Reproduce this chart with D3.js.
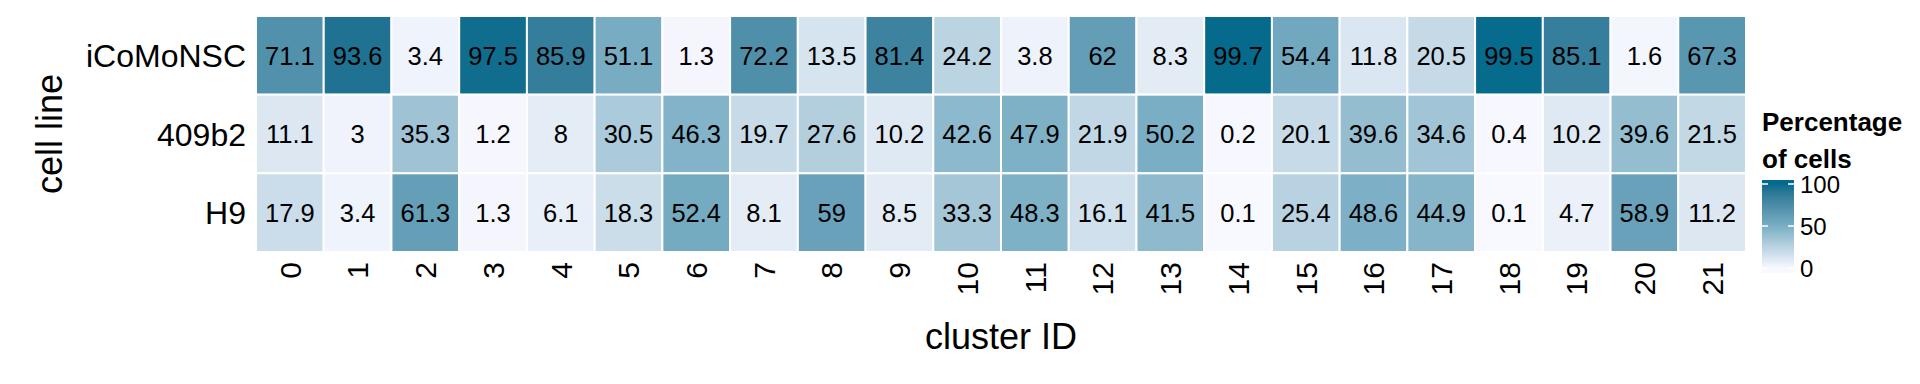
<!DOCTYPE html>
<html>
<head>
<meta charset="utf-8">
<script src="https://cdn.jsdelivr.net/npm/d3@7"></script>
<style>
  body { margin: 0; background: #fff; }
  text { font-family: "Liberation Sans", Arial, Helvetica, sans-serif; fill: #000; }
</style>
</head>
<body>
<div id="main"></div>
<script>
/*********************************************************
 * Data
 *********************************************************/
const clusters = d3.range(0, 22).map(String);
const cellLines = ['iCoMoNSC', '409b2', 'H9'];

const iCoMoNSC = [71.1, 93.6, 3.4, 97.5, 85.9, 51.1, 1.3, 72.2, 13.5, 81.4, 24.2,
  3.8, 62, 8.3, 99.7, 54.4, 11.8, 20.5, 99.5, 85.1, 1.6, 67.3];
const b409b2 = [11.1, 3, 35.3, 1.2, 8, 30.5, 46.3, 19.7, 27.6, 10.2, 42.6,
  47.9, 21.9, 50.2, 0.2, 20.1, 39.6, 34.6, 0.4, 10.2, 39.6, 21.5];
const H9 = [17.9, 3.4, 61.3, 1.3, 6.1, 18.3, 52.4, 8.1, 59, 8.5, 33.3,
  48.3, 16.1, 41.5, 0.1, 25.4, 48.6, 44.9, 0.1, 4.7, 58.9, 11.2];

const legendTicks = [0, 50, 100];

/*********************************************************
 * Layout
 *********************************************************/
const svgWidth = 1920;
const svgHeight = 384;
const panel = { l: 256, r: 1746, t: 16, b: 252 };

const svg = d3.select('#main')
  .append('svg')
  .attr('width', svgWidth)
  .attr('height', svgHeight);

const x = d3.scaleBand().domain(clusters).range([panel.l, panel.r]);
const y = d3.scaleBand().domain(cellLines).range([panel.t, panel.b]);

const color = d3.scaleLinear()
  .domain([0, 50, 100])
  .range(['#f8f8ff', '#79aec4', '#036a8b'])
  .interpolate(d3.interpolateLab);

// flatten into tiles
const rows = { 'iCoMoNSC': iCoMoNSC, '409b2': b409b2, 'H9': H9 };
const tiles = [];
cellLines.forEach(line => {
  rows[line].forEach((v, i) => {
    tiles.push({ line: line, cluster: clusters[i], value: v });
  });
});

/*********************************************************
 * Tiles + labels
 *********************************************************/
const plot = svg.append('g').attr('class', 'plot');

plot.selectAll('.tile')
  .data(tiles)
  .enter()
  .append('rect')
  .attr('class', 'tile')
  .attr('x', d => x(d.cluster))
  .attr('y', d => y(d.line))
  .attr('width', x.bandwidth())
  .attr('height', y.bandwidth())
  .style('fill', d => color(d.value))
  .style('stroke', '#fff')
  .style('stroke-width', 2);

plot.selectAll('.val')
  .data(tiles)
  .enter()
  .append('text')
  .attr('class', 'val')
  .attr('x', d => x(d.cluster) + x.bandwidth() / 2)
  .attr('y', d => y(d.line) + y.bandwidth() / 2)
  .attr('dy', '0.36em')
  .attr('text-anchor', 'middle')
  .style('font-size', '25.5px')
  .text(d => d.value);

/*********************************************************
 * Axes
 *********************************************************/
const yAxis = svg.append('g')
  .attr('transform', `translate(${panel.l},0)`)
  .call(d3.axisLeft(y).tickSize(0).tickPadding(10));
yAxis.select('.domain').remove();
yAxis.selectAll('text')
  .style('font-size', '32px')
  .style('font-family', '"Liberation Sans", Arial, sans-serif')
  .attr('fill', '#000')
  .attr('dy', '0.36em');

const xAxis = svg.append('g')
  .attr('transform', `translate(0,${panel.b})`)
  .call(d3.axisBottom(x).tickSize(0));
xAxis.select('.domain').remove();
xAxis.selectAll('text')
  .style('font-size', '30px')
  .style('font-family', '"Liberation Sans", Arial, sans-serif')
  .attr('fill', '#000')
  .attr('transform', 'rotate(-90)')
  .attr('x', -10)
  .attr('y', 0)
  .attr('dy', '0.36em')
  .attr('text-anchor', 'end');

svg.append('text')
  .attr('x', (panel.l + panel.r) / 2)
  .attr('y', 349)
  .attr('text-anchor', 'middle')
  .style('font-size', '36px')
  .text('cluster ID');

svg.append('text')
  .attr('transform', `translate(62,${(panel.t + panel.b) / 2}) rotate(-90)`)
  .attr('text-anchor', 'middle')
  .style('font-size', '36px')
  .text('cell line');

/*********************************************************
 * Legend
 *********************************************************/
const legend = svg.append('g').attr('class', 'legend');

legend.append('text')
  .attr('x', 1762)
  .attr('y', 131)
  .style('font-size', '26px')
  .style('font-weight', 'bold')
  .text('Percentage');
legend.append('text')
  .attr('x', 1762)
  .attr('y', 168)
  .style('font-size', '26px')
  .style('font-weight', 'bold')
  .text('of cells');

const barX = 1762, barW = 32, barTop = 180, barBot = 273;
const ly = d3.scaleLinear().domain([0, 100]).range([268, 184]);

const defs = svg.append('defs');
const grad = defs.append('linearGradient')
  .attr('id', 'lg')
  .attr('x1', 0).attr('y1', 1).attr('x2', 0).attr('y2', 0);
d3.range(0, 101, 5).forEach(v => {
  const off = (barBot - ly(v)) / (barBot - barTop);
  grad.append('stop')
    .attr('offset', off)
    .attr('stop-color', color(v));
});

legend.append('rect')
  .attr('x', barX)
  .attr('y', barTop)
  .attr('width', barW)
  .attr('height', barBot - barTop)
  .style('fill', 'url(#lg)');

legendTicks.forEach(t => {
  legend.append('line')
    .attr('x1', barX).attr('x2', barX + 6)
    .attr('y1', ly(t)).attr('y2', ly(t))
    .style('stroke', '#fff').style('stroke-width', 1.5);
  legend.append('line')
    .attr('x1', barX + barW - 6).attr('x2', barX + barW)
    .attr('y1', ly(t)).attr('y2', ly(t))
    .style('stroke', '#fff').style('stroke-width', 1.5);
  legend.append('text')
    .attr('x', 1800)
    .attr('y', ly(t))
    .attr('dy', '0.36em')
    .style('font-size', '24px')
    .text(t);
});
</script>
</body>
</html>
